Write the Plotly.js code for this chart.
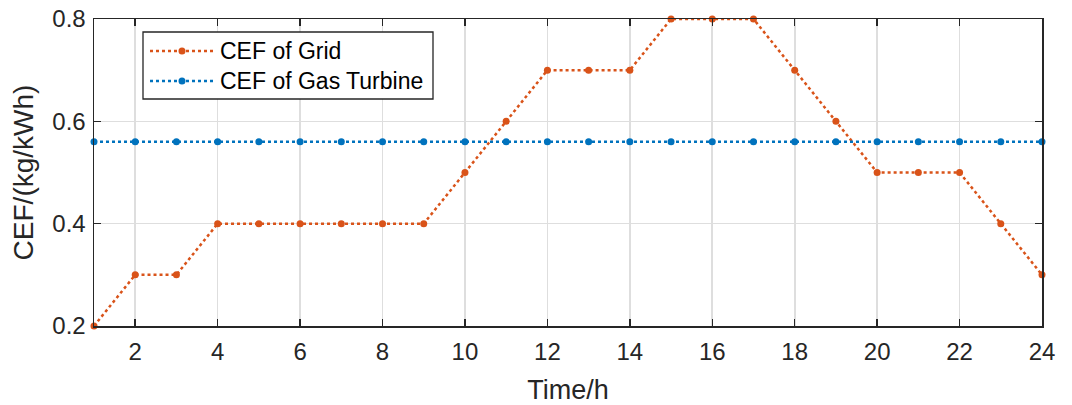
<!DOCTYPE html>
<html><head><meta charset="utf-8">
<script src="https://cdn.plot.ly/plotly-3.0.1.min.js"></script>
<style>html,body{margin:0;padding:0;background:#fff}#chart{width:1072px;height:405px}</style>
</head><body><div id="chart"></div>
<script>
const hours = [1,2,3,4,5,6,7,8,9,10,11,12,13,14,15,16,17,18,19,20,21,22,23,24];
const cefGrid = [0.2,0.3,0.3,0.4,0.4,0.4,0.4,0.4,0.4,0.5,0.6,0.7,0.7,0.7,0.8,0.8,0.8,0.7,0.6,0.5,0.5,0.5,0.4,0.3];
const cefGasTurbine = [0.56,0.56,0.56,0.56,0.56,0.56,0.56,0.56,0.56,0.56,0.56,0.56,0.56,0.56,0.56,0.56,0.56,0.56,0.56,0.56,0.56,0.56,0.56,0.56];
const seriesNames = ['CEF of Grid', 'CEF of Gas Turbine'];
const seriesColors = ['#D95319', '#0072BD'];
const xTicks = [2,4,6,8,10,12,14,16,18,20,22,24];
const yTicks = [0.2,0.4,0.6,0.8];

const FONT = 'Liberation Sans, Arial, sans-serif';
const W = 1072, H = 405;
const M = {l: 94, r: 30, t: 19, b: 79};
const PW = W - M.l - M.r, PH = H - M.t - M.b;
const px = v => (v - M.l) / PW;
const py = v => (H - M.b - v) / PH;

const traces = [cefGrid, cefGasTurbine].map((ys, i) => ({
  x: hours, y: ys, name: seriesNames[i], mode: 'lines+markers', showlegend: false,
  line: {color: seriesColors[i], width: 2.5, dash: 'dot'},
  marker: {color: seriesColors[i], size: 7}, cliponaxis: false
}));

// manual MATLAB-style legend
const shapes = [{type: 'rect', xref: 'paper', yref: 'paper', x0: px(143), x1: px(433), y0: py(99), y1: py(32),
  fillcolor: '#fff', line: {color: '#262626', width: 1.3}, layer: 'above'}];
const annotations = [];
const rowY = [51, 81];
seriesNames.forEach((n, i) => {
  shapes.push({type: 'line', xref: 'paper', yref: 'paper', x0: px(150), x1: px(213), y0: py(rowY[i]), y1: py(rowY[i]),
    line: {color: seriesColors[i], width: 2.5, dash: 'dot'}, layer: 'above'});
  shapes.push({type: 'circle', xref: 'paper', yref: 'paper', x0: px(178.5), x1: px(185.5), y0: py(rowY[i] + 3.5), y1: py(rowY[i] - 3.5),
    fillcolor: seriesColors[i], line: {color: seriesColors[i], width: 0}, layer: 'above'});
  annotations.push({xref: 'paper', yref: 'paper', x: px(218), y: py(rowY[i]), xanchor: 'left', yanchor: 'middle',
    text: n, showarrow: false, font: {family: FONT, size: 23, color: '#000'}});
});

const axisCommon = {
  showline: true, linecolor: '#262626', linewidth: 1.5, mirror: 'ticks',
  ticks: 'inside', ticklen: 7, tickwidth: 1.5, tickcolor: '#262626',
  showgrid: true, gridcolor: '#dedede', gridwidth: 1.6, zeroline: false, automargin: false,
  tickfont: {family: FONT, size: 24, color: '#262626'}
};
const layout = {
  width: W, height: H, margin: M,
  paper_bgcolor: '#fff', plot_bgcolor: '#fff',
  font: {family: FONT, color: '#262626'},
  xaxis: Object.assign({}, axisCommon, {range: [1, 24], tickvals: xTicks, ticktext: xTicks.map(String), ticklabelstandoff: 4,
    title: {text: 'Time/h', font: {size: 27, color: '#262626'}, standoff: 16}}),
  yaxis: Object.assign({}, axisCommon, {range: [0.2, 0.8], tickvals: yTicks, ticktext: yTicks.map(v => v.toFixed(1)), ticklabelstandoff: 2,
    title: {text: 'CEF/(kg/kWh)', font: {size: 28, color: '#262626'}, standoff: 10}}),
  showlegend: false,
  shapes: shapes, annotations: annotations
};
Plotly.newPlot('chart', traces, layout, {displayModeBar: false, staticPlot: true});
</script></body></html>
